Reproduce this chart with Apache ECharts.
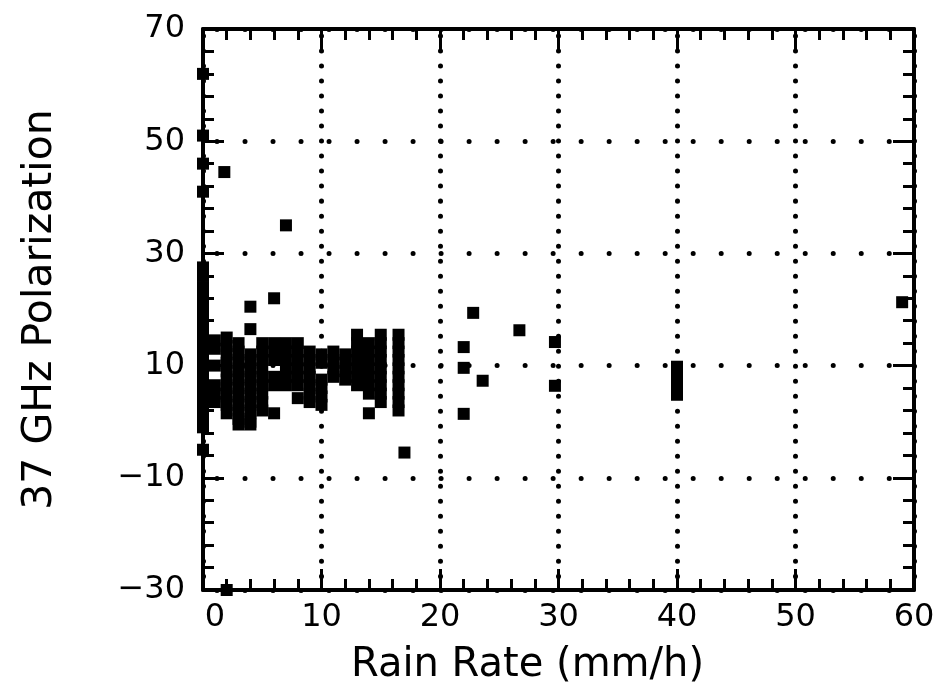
<!DOCTYPE html>
<html>
<head>
<meta charset="utf-8">
<script src="https://cdn.jsdelivr.net/npm/echarts@6/dist/echarts.min.js"></script>
<style>
html,body{margin:0;padding:0;background:#fff;}
#chart{width:942px;height:698px;}
</style>
</head>
<body>
<div id="chart"></div>
<script>
// Rain rate columns (mm/h) and the 37 GHz polarization values read at each
const rainRateColumns = [0, 1, 1.8, 2, 3, 4, 5, 6, 7, 8, 9, 10, 11, 12, 13, 14, 15, 16.5, 17, 22, 22.8, 23.6, 26.7, 29.7, 40, 59];
const polarizationByColumn = [
  [62, 51, 46, 41, 27.5, 26, 24, 22, 20, 18.5, 17, 15.5, 14, 12.5, 11, 9.5, 8, 6.5, 5, 3.5, 2, 0.5, -1, -5],
  [14.5, 13, 10, 6.5, 5, 3.5],
  [44.5],
  [15, 13.5, 12, 10.5, 9, 7.5, 6, 4.5, 3, 1.5, -30],
  [14, 12.5, 11, 9.5, 8, 6.5, 5, 3.5, 2, 0.5, -0.5],
  [20.5, 16.5, 12, 10.5, 9, 7.5, 6, 4.5, 3, 1.5, 0, -0.5],
  [14, 12.5, 11, 9.5, 8, 6.5, 5, 3.5, 2],
  [22, 14, 12.5, 11, 8, 6.5, 1.5],
  [35, 14, 12.5, 11, 9.5, 8, 6.5],
  [14, 12.5, 11, 9.5, 8, 6.5, 4.2],
  [12.5, 11, 9.5, 8, 6.5, 5, 3.5],
  [12, 10.5, 7.5, 6, 4.5, 3],
  [12.5, 11, 9.5, 8],
  [12, 10.5, 9, 7.5],
  [15.5, 14, 12.5, 11, 9.5, 8, 6.5],
  [14, 12.5, 11, 9.5, 8, 6.5, 5, 1.5],
  [15.5, 14, 12.5, 11, 9.5, 8, 6.5, 5, 3.5],
  [15.5, 14, 12.5, 11, 9.5, 8, 6.5, 5, 3.5, 2],
  [-5.5],
  [13.3, 9.6, 1.4],
  [19.4],
  [7.3],
  [16.3],
  [14.2, 6.4],
  [9.8, 8.5, 7, 5.5, 4.8],
  [21.3]
];
const xTicks = [0, 10, 20, 30, 40, 50, 60];
const yTicks = [-30, -10, 10, 30, 50, 70];
const xTitle = 'Rain Rate (mm/h)';
const yTitle = '37 GHz Polarization';

const points = [];
rainRateColumns.forEach(function (x, i) {
  polarizationByColumn[i].forEach(function (y) { points.push([x, y]); });
});

const black = '#000';
const labelFont = 'DejaVu Sans';
function axisCommon(opts) {
  return Object.assign({
    type: 'value',
    axisLine: { show: true, onZero: false, lineStyle: { color: black, width: 4 } },
    axisTick: { show: true, inside: true, length: 21, lineStyle: { color: black, width: 3 } },
    minorTick: { show: true, splitNumber: 5, length: 11, lineStyle: { color: black, width: 3 } },
    minorSplitLine: { show: false }
  }, opts);
}

const chart = echarts.init(document.getElementById('chart'), null, { renderer: 'canvas' });
chart.setOption({
  backgroundColor: '#fff',
  animation: false,
  grid: { left: 203, right: 28, top: 29, bottom: 108, containLabel: false },
  xAxis: [
    axisCommon({
      min: xTicks[0], max: xTicks[xTicks.length - 1], interval: 10,
      position: 'bottom',
      name: xTitle, nameLocation: 'middle', nameGap: 56,
      nameTextStyle: { fontFamily: labelFont, fontSize: 40, color: black, padding: [0, 62, 0, 0] },
      axisLabel: {
        show: true, margin: 12, color: black, fontFamily: labelFont, fontSize: 32,
        formatter: function (v) { return v === 0 ? '{z|0}' : String(v); },
        rich: { z: { fontFamily: labelFont, fontSize: 32, color: black, padding: [0, 0, 0, 24] } }
      },
      splitLine: { show: true, lineStyle: { color: black, width: 5, type: [0.01, 15], cap: 'round', dashOffset: 8 } }
    }),
    axisCommon({
      min: xTicks[0], max: xTicks[xTicks.length - 1], interval: 10,
      position: 'top', axisLabel: { show: false }, splitLine: { show: false }
    })
  ],
  yAxis: [
    axisCommon({
      min: yTicks[0], max: yTicks[yTicks.length - 1], interval: 20,
      position: 'left',
      name: yTitle, nameLocation: 'middle', nameGap: 142, nameRotate: 90,
      nameTextStyle: { fontFamily: labelFont, fontSize: 41, color: black },
      axisLabel: {
        show: true, margin: 18, color: black, fontFamily: labelFont, fontSize: 32,
        formatter: function (v) { return String(v).replace('-', '\u2212'); }
      },
      splitLine: { show: true, lineStyle: { color: black, width: 5, type: [0.01, 28], cap: 'round', dashOffset: 14 } }
    }),
    axisCommon({
      min: yTicks[0], max: yTicks[yTicks.length - 1], interval: 20,
      position: 'right', axisLabel: { show: false }, splitLine: { show: false }
    })
  ],
  series: [{
    type: 'scatter',
    xAxisIndex: 0, yAxisIndex: 0,
    data: points,
    symbol: 'rect',
    symbolSize: 12,
    clip: false,
    itemStyle: { color: black, opacity: 1 },
    z: 5
  }]
});
</script>
</body>
</html>
